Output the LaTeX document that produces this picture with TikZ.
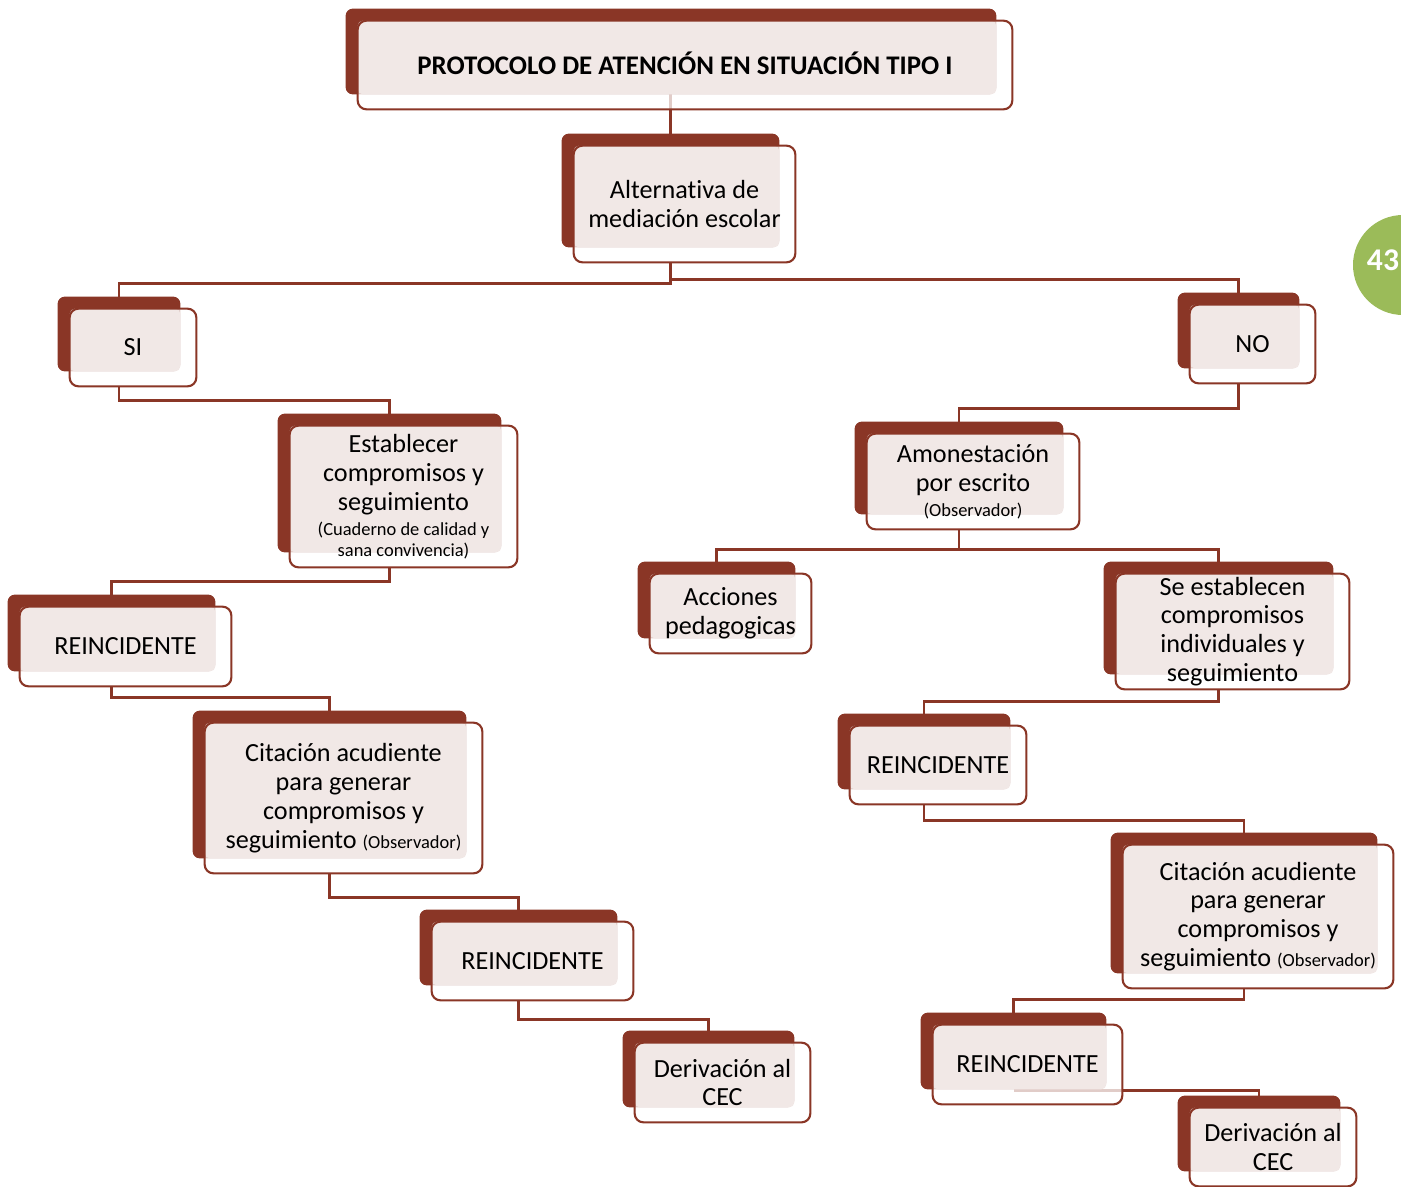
\documentclass[tikz,border=0pt]{standalone}
\usepackage{fontspec}
\setmainfont{Carlito}[Ligatures={NoCommon}]
\usepackage{tikz}
\usetikzlibrary{calc}

\definecolor{vino}{RGB}{138,54,38}
\definecolor{rosa}{RGB}{241,232,230}
\definecolor{verde}{RGB}{155,187,89}

\pgfdeclarelayer{lineas}
\pgfdeclarelayer{cajas}
\pgfsetlayers{lineas,cajas,main}

\newcommand{\upx}{0.02cm}
\newcommand{\chica}[1]{{\fontsize{10.5}{12}\selectfont #1}}
\newcommand{\caja}[5]{%
	\node[texto, minimum width=#3*\upx, minimum height=#4*\upx] (#1) at (#2) {#5};
	\begin{pgfonlayer}{cajas}
		\fill[sombra] ($(#1.north west)+(-12,-12)$) rectangle ($(#1.south east)+(-16,-15)$);
		\fill[fondo] (#1.north west) rectangle (#1.south east);
		\fill[relleno] (#1.north west) rectangle ($(#1.south east)+(-16,-15)$);
		\draw[borde] (#1.north west) rectangle (#1.south east);
	\end{pgfonlayer}
}

\begin{document}
\begin{tikzpicture}[x=0.02cm, y=-0.02cm,
	texto/.style={inner sep=0pt, align=center, font={\fontsize{14.9}{16.4}\selectfont}},
	sombra/.style={fill=vino, rounded corners=4pt},
	fondo/.style={fill=white, fill opacity=0.75, rounded corners=5pt},
	relleno/.style={fill=rosa, rounded corners=3pt},
	borde/.style={draw=vino, line width=1.2pt, rounded corners=5pt},
	linea/.style={draw=vino, line width=1.4pt}]
				\useasboundingbox (0,0) rectangle (1401,1187);
				
				\caja{titulo}{685,65}{654}{88}{\raisebox{2pt}{\fontsize{15.3}{16.4}\selectfont\bfseries PROTOCOLO DE ATENCIÓN EN SITUACIÓN TIPO I}}
				\caja{alternativa}{684.5,204}{221}{116}{Alternativa de\\mediación escolar}
				
				\caja{si}{133,347.5}{126}{77}{SI}
				\caja{establecer}{403.5,496.5}{227}{141}{Establecer\\compromisos y\\seguimiento\\[-2.2pt]\chica{(Cuaderno de calidad y}\\[-4.4pt]\chica{sana convivencia)}}
				\caja{reincidente1}{125.5,646.5}{211}{79}{REINCIDENTE}
				\caja{citacion1}{343.5,798}{277}{150}{Citación acudiente\\para generar\\compromisos y\\seguimiento \chica{(Observador)}}
				\caja{reincidente2}{532.5,961}{201}{78}{REINCIDENTE}
				\caja{derivacion1}{722.5,1082.5}{175}{79}{Derivación al\\CEC}
				
				\caja{no}{1252.5,344}{125}{78}{NO}
				\caja{amonestacion}{973,481.5}{212}{95}{Amonestación\\por escrito\\[-2.2pt]\chica{(Observador)}}
				\caja{acciones}{730.5,613.5}{161}{79}{Acciones\\pedagogicas}
				\caja{compromisos}{1232.5,631.5}{233}{115}{Se establecen\\compromisos\\individuales y\\seguimiento}
				\caja{reincidente3}{938,765}{176}{78}{REINCIDENTE}
				\caja{citacion2}{1258,916.5}{270}{143}{Citación acudiente\\para generar\\compromisos y\\seguimiento \chica{(Observador)}}
				\caja{reincidente4}{1027.5,1064.5}{189}{79}{REINCIDENTE}
				\caja{derivacion2}{1273,1147}{166}{78}{Derivación al\\CEC}
				
				\begin{pgfonlayer}{lineas}
				\draw[linea] ($(alternativa.north)+(-14,0)$) |- (titulo.center);
				\draw[linea] ($(alternativa.south)+(-14,0)$) -- ++(0,21) -| ($(si.north)+(-14,0)$);
				\draw[linea] ($(alternativa.south)+(-14,0)$) -- ++(0,17) -| ($(no.north)+(-14,0)$);
				\draw[linea] ($(si.south)+(-14,0)$) -- ++(0,14) -| ($(establecer.north)+(-14,0)$);
				\draw[linea] ($(establecer.south)+(-14,0)$) -- ++(0,14) -| ($(reincidente1.north)+(-14,0)$);
				\draw[linea] ($(reincidente1.south)+(-14,0)$) -- ++(0,11) -| ($(citacion1.north)+(-14,0)$);
				\draw[linea] ($(citacion1.south)+(-14,0)$) -- ++(0,24) -| ($(reincidente2.north)+(-14,0)$);
				\draw[linea] ($(reincidente2.south)+(-14,0)$) -- ++(0,19) -| ($(derivacion1.north)+(-14,0)$);
				\draw[linea] ($(no.south)+(-14,0)$) -- ++(0,25) -| ($(amonestacion.north)+(-14,0)$);
				\draw[linea] ($(amonestacion.south)+(-14,0)$) -- ++(0,20) -| ($(acciones.north)+(-14,0)$);
				\draw[linea] ($(amonestacion.south)+(-14,0)$) -- ++(0,20) -| ($(compromisos.north)+(-14,0)$);
				\draw[linea] ($(compromisos.south)+(-14,0)$) -- ++(0,12) -| ($(reincidente3.north)+(-14,0)$);
				\draw[linea] ($(reincidente3.south)+(-14,0)$) -- ++(0,16) -| ($(citacion2.north)+(-14,0)$);
				\draw[linea] ($(citacion2.south)+(-14,0)$) -- ++(0,11) -| ($(reincidente4.north)+(-14,0)$);
				\draw[linea] ($(reincidente4.south)+(-14,-14)$) -| ($(derivacion2.north)+(-14,0)$);
				\end{pgfonlayer}
				
				\begin{scope}
				\clip (0,0) rectangle (1401,1187);
				\node[circle, fill=verde, minimum size=100*\upx, inner sep=0pt] (pagina) at (1403,265) {};
				\end{scope}
				\node[text=white, inner sep=0pt, font={\fontsize{18}{20}\selectfont\bfseries}] (numero) at (1383,260) {43};
\end{tikzpicture}
\end{document}
